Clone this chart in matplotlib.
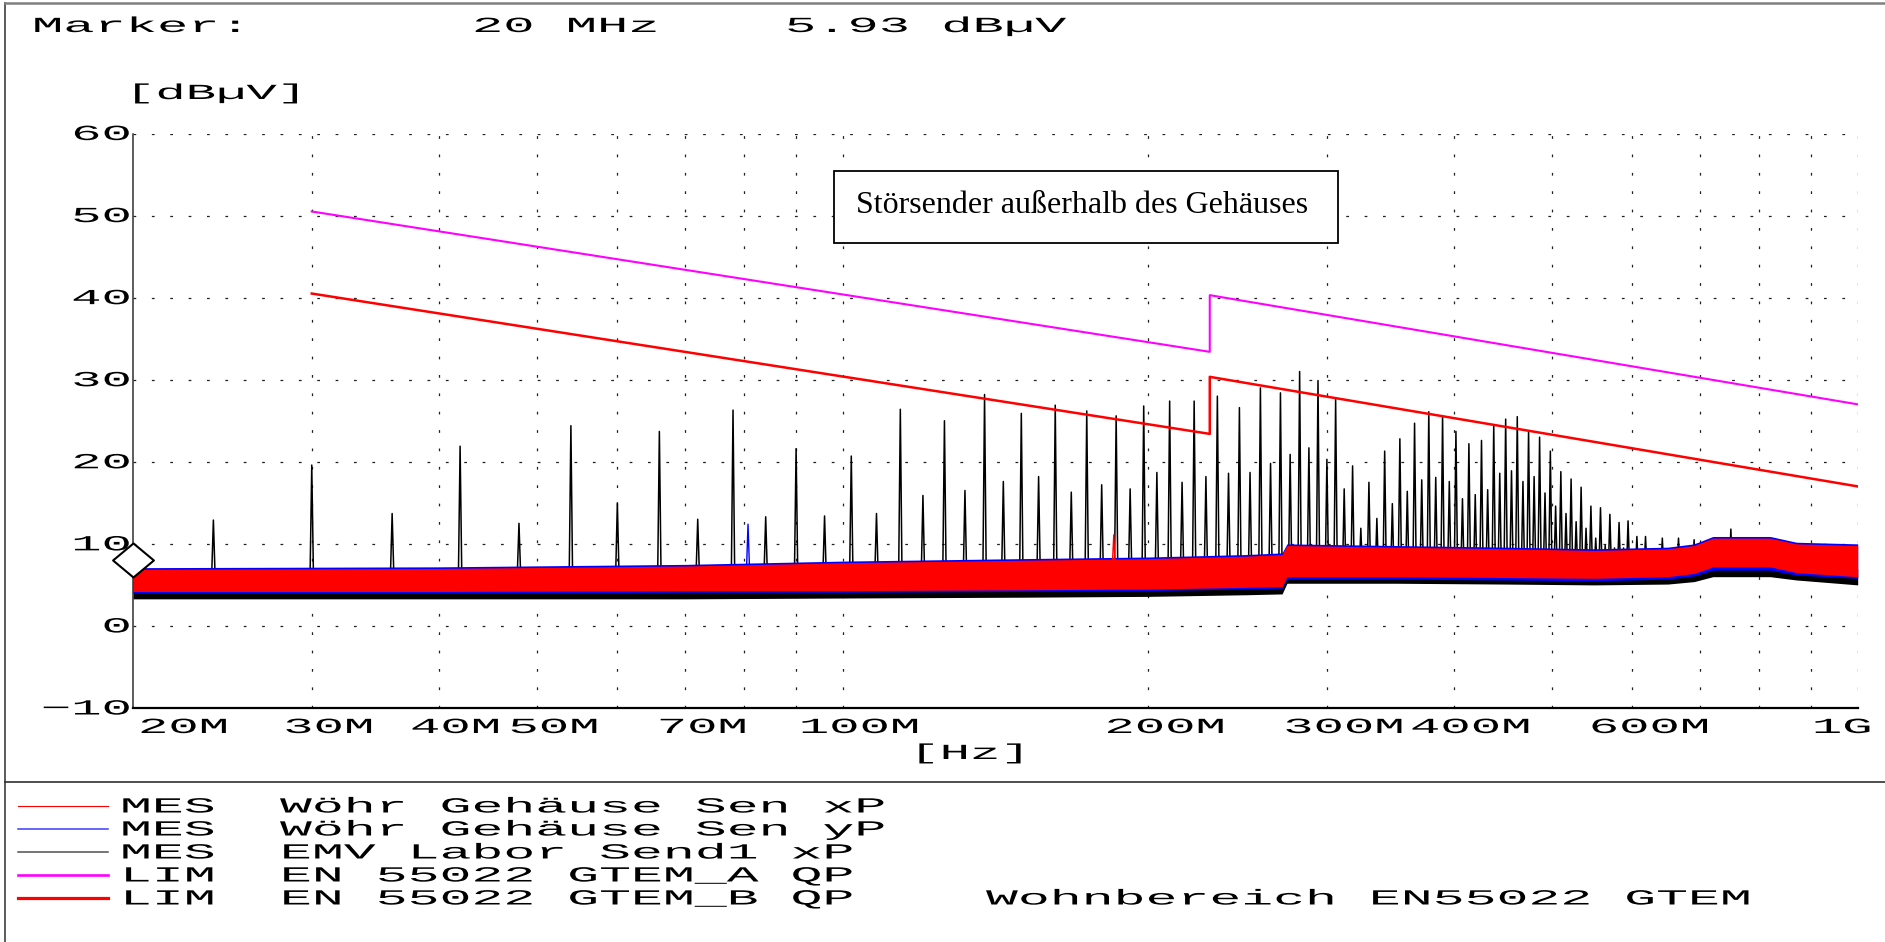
import numpy as np
import matplotlib
matplotlib.use("Agg")
import matplotlib.pyplot as plt
import matplotlib.transforms as mtransforms
import matplotlib.patheffects as pe
from matplotlib.lines import Line2D
from matplotlib.patches import Rectangle
from matplotlib.path import Path

# ---------------- data ----------------
# noise envelopes (MHz, dBuV)
env_mhz = [20, 40, 70, 100, 150, 200, 250, 271, 274, 350, 450, 550, 650, 690, 720, 820, 870, 1000]
red_lo = [4.2, 4.2, 4.3, 4.3, 4.4, 4.5, 4.7, 4.8, 6.0, 6.0, 5.9, 5.8, 6.0, 6.4, 7.2, 7.2, 6.5, 6.0]
red_hi = [6.9, 7.0, 7.3, 7.7, 8.0, 8.2, 8.5, 8.7, 9.8, 9.6, 9.4, 9.2, 9.4, 9.8, 10.7, 10.7, 10.0, 9.8]
blue_lo = [4.0, 4.0, 4.1, 4.1, 4.2, 4.3, 4.5, 4.6, 5.7, 5.7, 5.6, 5.5, 5.7, 6.1, 6.8, 6.8, 6.2, 5.8]
blue_hi = [7.1, 7.2, 7.5, 7.9, 8.2, 8.4, 8.7, 8.9, 10.0, 9.8, 9.6, 9.4, 9.6, 10.0, 10.9, 10.9, 10.2, 10.0]
black_lo = [3.3, 3.3, 3.3, 3.4, 3.5, 3.6, 3.8, 3.9, 5.2, 5.2, 5.1, 5.0, 5.1, 5.4, 6.0, 6.0, 5.6, 5.0]
black_hi = [5.5, 5.6, 5.8, 6.0, 6.2, 6.3, 6.5, 6.6, 7.3, 7.2, 7.1, 7.0, 7.1, 7.4, 8.0, 8.0, 7.5, 7.0]

# black trace harmonics (MHz, dBuV peak)
spike_mhz = [24, 30, 36, 42, 48, 54, 60, 66, 72, 78, 84, 90, 96, 102, 108, 114, 120, 126,
             132, 138, 144, 150, 156, 162, 168, 174, 180, 186, 192, 198, 204, 210, 216, 222,
             228, 234, 240, 246, 252, 258, 264, 270, 276, 282, 288, 294, 300, 306, 312, 318,
             324, 330, 336, 342, 348, 354, 360, 366, 372, 378, 384, 390, 396, 402, 408, 414,
             420, 426, 432, 438, 444, 450, 456, 462, 468, 474, 480, 486, 492, 498, 504, 510,
             516, 522, 528, 534, 540, 546, 552, 558, 564, 570, 576, 582, 588, 594, 606, 618,
             642, 666, 690, 750]
spike_db = [12.9, 19.6, 13.7, 21.9, 12.5, 24.4, 15.0, 23.7, 13.0, 26.3, 13.3, 21.6, 13.4, 20.7,
            13.7, 26.4, 15.9, 25.0, 16.5, 28.2, 17.6, 25.9, 18.2, 26.9, 16.3, 26.2, 17.2, 25.6,
            16.7, 26.8, 18.7, 27.4, 17.5, 27.4, 18.2, 28.0, 18.6, 26.6, 18.7, 29.0, 19.8, 28.4,
            20.9, 31.0, 21.7, 29.9, 20.3, 27.6, 16.7, 19.5, 11.9, 17.5, 13.1, 21.3, 14.9, 22.8,
            16.4, 24.7, 17.8, 26.1, 18.1, 25.6, 17.6, 23.7, 15.5, 22.2, 16.0, 22.6, 16.6, 24.5,
            18.6, 25.2, 18.9, 25.5, 17.6, 23.8, 18.2, 23.0, 16.2, 21.3, 14.6, 18.8, 13.7, 17.9,
            12.7, 16.9, 11.9, 14.6, 10.7, 14.4, 9.8, 13.6, 9.5, 12.6, 9.5, 12.8, 10.9, 10.9,
            10.7, 10.7, 10.5, 11.8]
blue_spike_mhz = [80.7]
blue_spike_db = [12.4]
red_spike_mhz = [185]
red_spike_db = [11.1]

# limit lines
limA_mhz = [30, 230, 230, 1000]
limA_db = [50.5, 33.4, 40.3, 27.0]
limB_mhz = [30, 230, 230, 1000]
limB_db = [40.5, 23.4, 30.35, 17.0]

marker_mhz = 20
marker_db = 5.93

grid_mhz = [30, 40, 50, 60, 70, 80, 90, 100, 200, 300, 400, 500, 600, 700, 800, 900, 1000]
xlab_mhz = [20, 30, 40, 50, 70, 100, 200, 300, 400, 600, 1000]
xlab_txt = ["20M", "30M", "40M", "50M", "70M", "100M", "200M", "300M", "400M", "600M", "1G"]
ytick_vals = [-10, 0, 10, 20, 30, 40, 50, 60]
ytick_txt = ["\u221210", "0", "10", "20", "30", "40", "50", "60"]

legend_kind = ["MES", "MES", "MES", "LIM", "LIM"]
legend_name = ["Wöhr Gehäuse Sen xP", "Wöhr Gehäuse Sen yP", "EMV Labor Send1 xP",
               "EN 55022 GTEM_A QP", "EN 55022 GTEM_B QP"]
legend_color = ["#ff0000", "#3c3cff", "#505050", "#ff00ff", "#ff0000"]
legend_lw = [0.8, 1.1, 1.1, 1.9, 2.3]

# ---------------- styling helpers ----------------
W, H, DPI = 1885, 942, 100
MONO = ["Liberation Mono", "DejaVu Sans Mono"]
FS = 15.5
SX = 2.35
SX_LEG = 2.47


class HStretch(pe.AbstractPathEffect):
    """Horizontally widen glyphs (the reference uses a wide plotter font)."""

    def __init__(self, sx=SX, anchor="left"):
        super().__init__()
        self._sx = sx
        self._anchor = anchor

    def draw_path(self, renderer, gc, tpath, affine, rgbFace=None):
        v = tpath.vertices
        x0 = 0.0
        if len(v):
            if self._anchor == "right":
                x0 = float(np.nanmax(v[:, 0]))
            elif self._anchor == "center":
                x0 = 0.5 * float(np.nanmin(v[:, 0]) + np.nanmax(v[:, 0]))
        pre = mtransforms.Affine2D().translate(-x0, 0).scale(self._sx, 1.0).translate(x0, 0)
        renderer.draw_path(gc, tpath, pre + affine, rgbFace)


fig = plt.figure(figsize=(W / DPI, H / DPI), dpi=DPI)
fig.patch.set_facecolor("white")
pix = mtransforms.Affine2D().scale(1.0 / W, -1.0 / H).translate(0, 1) + fig.transFigure


def ptext(x, y, s, ha="left", sx=SX, **kw):
    t = fig.text(x, y, s, transform=pix, ha=ha, va="baseline", family=MONO,
                 fontsize=FS, color="black", **kw)
    t.set_path_effects([HStretch(sx, ha)])
    return t


# frame lines
fig.add_artist(Line2D([5, 5], [3, 942], transform=pix, color="#404040", lw=1.2))
fig.add_artist(Line2D([5, 1885], [3, 3], transform=pix, color="#808080", lw=1.8))
fig.add_artist(Line2D([5, 1885], [782, 782], transform=pix, color="#303030", lw=1.2))

# header
ptext(32, 32, "Marker:", sx=2.42)
ptext(472, 32, "20 MHz", sx=2.42)
ptext(785, 32, "5.93 dBµV", sx=2.42)
ptext(125, 99, "[dBµV]")

# ---------------- axes ----------------
L, R, T, B = 133, 1857.7, 133.5, 708
ax = fig.add_axes([L / W, 1 - B / H, (R - L) / W, (B - T) / H])
ax.set_xscale("log")
ax.set_xlim(20e6, 1e9)
ax.set_ylim(-10, 60)
ax.set_xticks([m * 1e6 for m in grid_mhz])
ax.set_xticks([], minor=True)
ax.set_yticks(ytick_vals)
ax.tick_params(which="both", length=0, labelbottom=False, labelleft=False)
ax.grid(True, which="major", color="#202020", lw=0.9, linestyle=(0, (2.2, 12.5)))
for s in ("top", "right"):
    ax.spines[s].set_visible(False)
ax.spines["left"].set_color("#303030")
ax.spines["left"].set_linewidth(1.1)
ax.spines["bottom"].set_color("black")
ax.spines["bottom"].set_linewidth(1.6)
ax.set_facecolor("white")

fh = np.array(env_mhz) * 1e6
ax.fill_between(fh, black_lo, black_hi, color="black", lw=0, zorder=2)
ax.fill_between(fh, blue_lo, blue_hi, color="#0000ff", lw=0, zorder=3)
ax.fill_between(fh, red_lo, red_hi, color="#ff0000", lw=0, zorder=4)


def spikes(mhz, db, base, delta=0.0038):
    xs, ys = [], []
    for f, d in zip(mhz, db):
        f = f * 1e6
        xs += [f * (1 - delta), f, f * (1 + delta), np.nan]
        ys += [base, d, base, np.nan]
    return xs, ys


sx_, sy_ = spikes(spike_mhz, spike_db, 6.3)
ax.plot(sx_, sy_, color="black", lw=1.1, zorder=2.5)
bx_, by_ = spikes(blue_spike_mhz, blue_spike_db, 6.3)
ax.plot(bx_, by_, color="#0000ff", lw=1.0, zorder=3.5)
rx_, ry_ = spikes(red_spike_mhz, red_spike_db, 6.8)
ax.plot(rx_, ry_, color="#ff0000", lw=1.0, zorder=4.5)

ax.plot(np.array(limA_mhz) * 1e6, limA_db, color="#ff00ff", lw=1.5, zorder=5)
ax.plot(np.array(limB_mhz) * 1e6, limB_db, color="#ff0000", lw=1.8, zorder=5)

diamond = Path([(0, 0), (0.6, 0.5), (0, 1), (-0.6, 0.5), (0, 0)],
               [Path.MOVETO, Path.LINETO, Path.LINETO, Path.LINETO, Path.CLOSEPOLY])
ax.plot([marker_mhz * 1e6], [marker_db], linestyle="none", marker=diamond, ms=49,
        mfc="white", mec="black", mew=1.5, clip_on=False, zorder=7)


def off(dx, dy):
    return mtransforms.ScaledTranslation(dx / DPI, dy / DPI, fig.dpi_scale_trans)


ytr = mtransforms.blended_transform_factory(ax.transAxes, ax.transData)
for v, s in zip(ytick_vals, ytick_txt):
    t = ax.text(0, v, s, transform=ytr + off(-3, -6.5), ha="right", va="baseline",
                family=MONO, fontsize=FS, color="black", clip_on=False)
    t.set_path_effects([HStretch(SX, "right")])

xtr = mtransforms.blended_transform_factory(ax.transData, ax.transAxes)
for m, s in zip(xlab_mhz, xlab_txt):
    if m == xlab_mhz[0]:
        ha, dx = "left", 5
    elif m == xlab_mhz[-1]:
        ha, dx = "right", 13
    else:
        ha, dx = "center", 16
    t = ax.text(m * 1e6, 0, s, transform=xtr + off(dx, -25), ha=ha, va="baseline",
                family=MONO, fontsize=FS, color="black", clip_on=False)
    t.set_path_effects([HStretch(SX, ha)])

ptext(967, 759, "[Hz]", ha="center")

# annotation box
fig.add_artist(Rectangle((834, 171), 504, 72, transform=pix, facecolor="white",
                         edgecolor="black", lw=1.3, zorder=10))
fig.text(856, 213, "Störsender außerhalb des Gehäuses", transform=pix, ha="left",
         va="baseline", family=["Liberation Serif", "DejaVu Serif"], fontsize=23,
         color="black", zorder=11)

# legend
rows = [806, 829, 852, 875, 898]
for y, k, n, c, lw in zip(rows, legend_kind, legend_name, legend_color, legend_lw):
    fig.add_artist(Line2D([18, 108], [y, y], transform=pix, color=c, lw=lw))
    ptext(120, y + 6.5, k, sx=SX_LEG)
    ptext(280, y + 6.5, n, sx=SX_LEG)
ptext(986, rows[-1] + 6.5, "Wohnbereich EN55022 GTEM", sx=SX_LEG)

fig.savefig("out.png", dpi=DPI, facecolor="white")
